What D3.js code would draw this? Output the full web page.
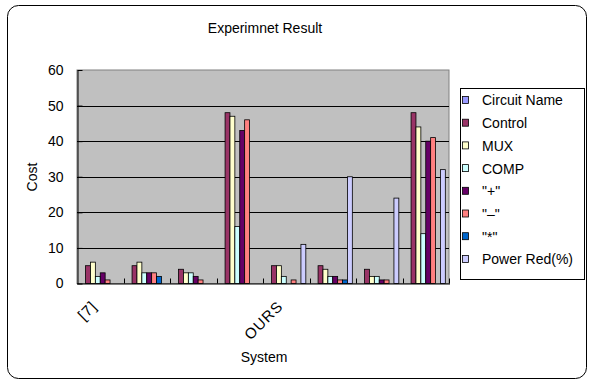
<!DOCTYPE html>
<html><head><meta charset="utf-8">
<script src="https://cdn.jsdelivr.net/npm/d3@7"></script>
<style>body{margin:0;background:#fff}svg{display:block}text{font-family:"Liberation Sans",Arial,sans-serif;fill:#000}</style>
</head><body>
<svg id="c" width="590" height="385"></svg>
<script>
const categories = ["[7]", "c2", "c3", "c4", "OURS", "c6", "c7", "c8"];
const categoryLabels = ["[7]", "", "", "", "OURS", "", "", ""];
const seriesNames = ["Circuit Name", "Control", "MUX", "COMP", "\"+\"", "\"\u2013\"", "\"*\"", "Power Red(%)"];
const seriesColors = ["#9999FF", "#993366", "#FFFFCC", "#CCFFFF", "#660066", "#FF8080", "#0066CC", "#CCCCFF"];
const circuitName = [0, 0, 0, 0, 0, 0, 0, 0];
const control = [5, 5, 4, 48, 5, 5, 4, 48];
const mux = [6, 6, 3, 47, 5, 4, 2, 44];
const comp = [2, 3, 3, 16, 2, 2, 2, 14];
const plus = [3, 3, 2, 43, 0, 2, 1, 40];
const minus = [1, 3, 1, 46, 1, 1, 1, 41];
const times = [0, 2, 0, 0, 0, 1, 0, 0];
const powerRed = [0, 0, 0, 0, 11, 30, 24, 32];
const yTicks = [0, 10, 20, 30, 40, 50, 60];

const seriesValues = [circuitName, control, mux, comp, plus, minus, times, powerRed];

const svg = d3.select("#c");
// outer border
svg.append("rect").attr("x", 7.5).attr("y", 5.5).attr("width", 579).attr("height", 373)
  .attr("rx", 11).attr("fill", "#fff").attr("stroke", "#000").attr("stroke-width", 1);

const L = 77, R = 449, T = 70, B = 283.5;
const x0 = d3.scaleBand().domain(categories).range([L, R]).paddingInner(0).paddingOuter(0);
// Excel gap width 150%: bars occupy 8/9.5 of category width, centred
const gap = 0.75 / 9.5;
const x1 = d3.scaleBand().domain(d3.range(seriesNames.length))
  .range([x0.bandwidth() * gap, x0.bandwidth() * (1 - gap)]).padding(0);
const y = d3.scaleLinear().domain([0, 60]).range([B, T]);

// plot background
svg.append("rect").attr("x", L).attr("y", T).attr("width", R - L).attr("height", B - T)
  .attr("fill", "#C0C0C0").attr("stroke", "#808080").attr("stroke-width", 1);

// gridlines
svg.append("g").selectAll("line").data(yTicks.filter(d => d > 0 && d < 60)).join("line")
  .attr("x1", L).attr("x2", R).attr("y1", d => Math.round(y(d)) + 0.5).attr("y2", d => Math.round(y(d)) + 0.5)
  .attr("stroke", "#000").attr("stroke-width", 1);

// bars
const g = svg.append("g");
categories.forEach((c, ci) => {
  seriesValues.forEach((vals, si) => {
    const v = vals[ci];
    if (v <= 0) return;
    g.append("rect")
      .attr("x", x0(c) + x1(si))
      .attr("y", y(v))
      .attr("width", x1.bandwidth())
      .attr("height", y(0) - y(v))
      .attr("fill", seriesColors[si])
      .attr("stroke", "#000").attr("stroke-width", 0.8);
  });
});

// y axis
const yAxis = d3.axisLeft(y).tickValues(yTicks).tickSizeInner(-5).tickSizeOuter(0).tickPadding(14);
const ya = svg.append("g").attr("transform", `translate(${L + 0.5},0)`).call(yAxis);
ya.select(".domain").attr("stroke", "#000");
ya.selectAll(".tick line").attr("stroke", "#000");
ya.selectAll("text").style("font-size", "14px").attr("fill", "#000");

// x axis
const xa = svg.append("g").attr("transform", `translate(0,${B})`);
xa.append("line").attr("x1", L).attr("x2", R + 1).attr("y1", 0.5).attr("y2", 0.5).attr("stroke", "#000");
const bounds = categories.map(c => x0(c)).concat([R]).slice(1);
xa.selectAll("line.tk").data(bounds).join("line").attr("class", "tk")
  .attr("x1", d => Math.round(d) + 0.5).attr("x2", d => Math.round(d) + 0.5)
  .attr("y1", 0).attr("y2", -5).attr("stroke", "#000");
xa.selectAll("text").data(categories).join("text")
  .attr("transform", c => `translate(${x0(c) + x0.bandwidth() / 2 - 6},${20}) rotate(-45)`)
  .attr("text-anchor", "end")
  .attr("dy", "0.35em")
  .style("font-size", "15px")
  .style("letter-spacing", "1px")
  .text((c, i) => categoryLabels[i]);

// titles
svg.append("text").attr("x", 265).attr("y", 33).attr("text-anchor", "middle")
  .style("font-size", "14px").text("Experimnet Result");
svg.append("text").attr("transform", "translate(37,177) rotate(-90)").attr("text-anchor", "middle")
  .style("font-size", "14px").text("Cost");
svg.append("text").attr("x", 264).attr("y", 362).attr("text-anchor", "middle")
  .style("font-size", "14px").text("System");

// legend
const lg = svg.append("g");
lg.append("rect").attr("x", 460.5).attr("y", 88.5).attr("width", 124).attr("height", 191)
  .attr("fill", "#fff").attr("stroke", "#000");
seriesNames.forEach((n, i) => {
  const cy = 100.5 + i * 22.7;
  lg.append("rect").attr("x", 462.5).attr("y", cy - 4).attr("width", 6).attr("height", 7)
    .attr("fill", seriesColors[i]).attr("stroke", "#000").attr("stroke-width", 0.8);
  lg.append("text").attr("x", 482).attr("y", cy).attr("dy", "0.35em")
    .style("font-size", "14px").text(n);
});
</script>
</body></html>
